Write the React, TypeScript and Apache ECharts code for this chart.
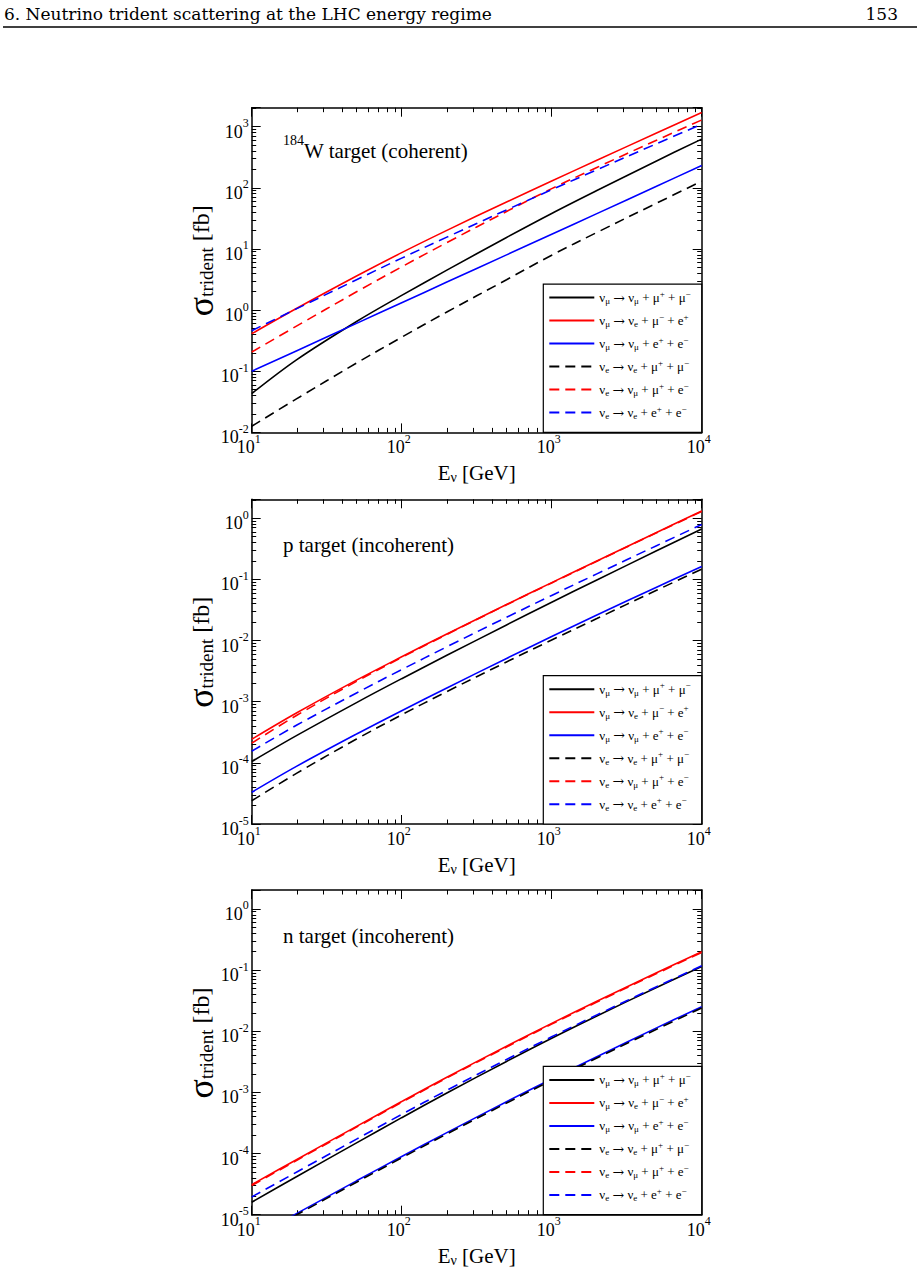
import React, { useEffect, useRef } from 'react';
import * as echarts from 'echarts';

// ---------------- data ----------------
const energies = [10, 20, 50, 100, 200, 500, 1000, 2000, 5000, 10000];

const reactionNames = [
  'ν_μ → ν_μ + μ^+ + μ^−',
  'ν_μ → ν_e + μ^− + e^+',
  'ν_μ → ν_μ + e^+ + e^−',
  'ν_e → ν_e + μ^+ + μ^−',
  'ν_e → ν_μ + μ^+ + e^−',
  'ν_e → ν_e + e^+ + e^−',
];

const xTickValues = [10, 100, 1000, 10000];

// 184W target (coherent), sigma in fb
const W_numu_mumu = [0.043, 0.155, 0.65, 1.74, 4.5, 15.4, 38, 90, 275, 625];
const W_numu_mue = [0.41, 1.07, 3.6, 8.7, 20.1, 58.7, 129, 282, 787, 1700];
const W_numu_ee = [0.1, 0.217, 0.606, 1.32, 2.87, 8.0, 17.4, 37.8, 106, 232];
const W_nue_mumu = [0.0126, 0.0356, 0.136, 0.36, 0.93, 3.14, 7.9, 18.6, 56, 128];
const W_nue_mue = [0.206, 0.551, 1.99, 5.1, 12.7, 41, 96.8, 215, 600, 1285];
const W_nue_ee = [0.46, 1.056, 3.14, 7.07, 15.6, 43.5, 93, 197, 525, 1094];

// p target (incoherent)
const P_numu_mumu = [1.05e-4, 2.81e-4, 9.67e-4, 2.38e-3, 5.73e-3, 1.8e-2, 4.23e-2, 9.77e-2, 0.293, 0.668];
const P_numu_mue = [2.43e-4, 6.59e-4, 2.25e-3, 5.42e-3, 1.28e-2, 3.88e-2, 8.85e-2, 0.2, 0.585, 1.31];
const P_numu_ee = [3.3e-5, 8.83e-5, 2.96e-4, 7.13e-4, 1.68e-3, 5.1e-3, 1.163e-2, 2.62e-2, 7.44e-2, 0.163];
const P_nue_mumu = [2.4e-5, 6.79e-5, 2.45e-4, 6.11e-4, 1.462e-3, 4.47e-3, 1.02e-2, 2.29e-2, 6.64e-2, 0.147];
const P_nue_mue = [2.1e-4, 6.0e-4, 2.15e-3, 5.3e-3, 1.26e-2, 3.85e-2, 8.75e-2, 0.198, 0.578, 1.29];
const P_nue_ee = [1.55e-4, 4.15e-4, 1.39e-3, 3.35e-3, 7.9e-3, 2.4e-2, 5.47e-2, 0.123, 0.356, 0.79];

// n target (incoherent)
const N_numu_mumu = [1.6e-5, 4.22e-5, 1.495e-4, 3.86e-4, 9.77e-4, 3.21e-3, 7.69e-3, 1.778e-2, 5.2e-2, 0.1145];
const N_numu_mue = [3.1e-5, 8.0e-5, 2.78e-4, 7.08e-4, 1.77e-3, 5.7e-3, 1.346e-2, 3.09e-2, 9.03e-2, 0.2];
const N_numu_ee = [4.1e-6, 1.05e-5, 3.58e-5, 8.95e-5, 2.2e-4, 7.04e-4, 1.66e-3, 3.84e-3, 1.134e-2, 2.52e-2];
const N_nue_mumu = [3.9e-6, 1.0e-5, 3.4e-5, 8.5e-5, 2.09e-4, 6.69e-4, 1.58e-3, 3.65e-3, 1.077e-2, 2.4e-2];
const N_nue_mue = [3.0e-5, 7.76e-5, 2.7e-4, 6.87e-4, 1.72e-3, 5.53e-3, 1.306e-2, 3.0e-2, 8.76e-2, 0.194];
const N_nue_ee = [1.95e-5, 5.0e-5, 1.72e-4, 4.36e-4, 1.08e-3, 3.45e-3, 8.1e-3, 1.85e-2, 5.34e-2, 0.1177];

const panelLabels = ['^{184}W target (coherent)', 'p target (incoherent)', 'n target (incoherent)'];
const yMins = [0.01, 1e-5, 1e-5];
const yMaxs = [2040, 2.04, 2.04];

const xAxisTitle = 'E_ν [GeV]';
const yAxisTitle = 'σ_{trident} [fb]';
const headerTitle = '6. Neutrino trident scattering at the LHC energy regime';
const pageNumber = '153';

// ---------------- styles / layout ----------------
const SERIF = '"Liberation Serif", "Times New Roman", serif';
const lineColors = ['#000000', '#ff0000', '#0000ff', '#000000', '#ff0000', '#0000ff'];
const lineDashed = [false, false, false, true, true, true];

const PLOT_LEFT = 251.7;
const PLOT_W = 450;
const PLOT_H = 324.7;
const panelTops = [107.7, 499.3, 890];
const LEGEND_LEFT = 543.3;
const LEGEND_W = 158.4;
const LEGEND_H = 148.3;

function toRich(s: string, normal: string, sub: string, sup: string, arrow?: string, first?: string): string {
  let out = '';
  let buf = '';
  const flush = () => {
    if (buf) {
      out += `{${normal}|${buf}}`;
      buf = '';
    }
  };
  for (let i = 0; i < s.length; i++) {
    const c = s[i];
    if ((c === '_' || c === '^') && i + 1 < s.length) {
      flush();
      let t = '';
      if (s[i + 1] === '{') {
        let j = i + 2;
        while (j < s.length && s[j] !== '}') {
          t += s[j];
          j++;
        }
        i = j;
      } else {
        t = s[i + 1];
        i++;
      }
      out += `{${c === '_' ? sub : sup}|${t}}`;
    } else if (arrow && c === '→') {
      flush();
      out += `{${arrow}|→}`;
    } else if (first && i === 0) {
      out += `{${first}|${c}}`;
    } else {
      buf += c;
    }
  }
  flush();
  return out;
}

const expLabel = (v: number) => {
  const e = Math.log10(v);
  const r = Math.round(e);
  if (Math.abs(e - r) > 1e-6) return '';
  return `{b|10}{e|${r}}`;
};

const tickRich = {
  b: { fontSize: 18, fontFamily: SERIF, color: '#000', lineHeight: 18, padding: [10, 0, 0, 0] },
  e: { fontSize: 12, fontFamily: SERIF, color: '#000', lineHeight: 12, padding: [0, 0, 7, 0] },
};

const panelSeries = [
  [W_numu_mumu, W_numu_mue, W_numu_ee, W_nue_mumu, W_nue_mue, W_nue_ee],
  [P_numu_mumu, P_numu_mue, P_numu_ee, P_nue_mumu, P_nue_mue, P_nue_ee],
  [N_numu_mumu, N_numu_mue, N_numu_ee, N_nue_mumu, N_nue_mue, N_nue_ee],
];

function buildOption() {
  const grid: any[] = [];
  const xAxis: any[] = [];
  const yAxis: any[] = [];
  const series: any[] = [];
  const legend: any[] = [];
  const title: any[] = [];
  const graphic: any[] = [];

  const frameLine = { show: true, onZero: false, lineStyle: { color: '#000', width: 1.5 } };
  const majorTick = { show: true, inside: true, length: 9, lineStyle: { color: '#000', width: 1 } };
  const minorTick = { show: true, splitNumber: 9, length: 4.5, lineStyle: { color: '#000', width: 1 } };

  panelTops.forEach((top, p) => {
    grid.push({ left: PLOT_LEFT, top, width: PLOT_W, height: PLOT_H });
    const xBase = {
      type: 'log',
      logBase: 10,
      gridIndex: p,
      min: xTickValues[0],
      max: xTickValues[xTickValues.length - 1],
      axisLine: frameLine,
      axisTick: majorTick,
      minorTick,
      splitLine: { show: false },
      minorSplitLine: { show: false },
    };
    xAxis.push({
      ...xBase,
      position: 'bottom',
      axisLabel: { formatter: expLabel, margin: 1, padding: [0, 6, 0, 0], rich: tickRich },
      name: toRich(xAxisTitle, 'n', 's', 'p'),
      nameLocation: 'middle',
      nameGap: 29,
      nameTextStyle: {
        fontSize: 21,
        fontFamily: SERIF,
        color: '#000',
        rich: {
          s: { fontSize: 14, fontFamily: SERIF, color: '#000', lineHeight: 14, padding: [9, 0, 0, 0] },
          n: { fontSize: 21, fontFamily: SERIF, color: '#000', lineHeight: 24 },
        },
      },
    });
    xAxis.push({ ...xBase, position: 'top', axisLabel: { show: false } });

    const yBase = {
      type: 'log',
      logBase: 10,
      gridIndex: p,
      min: yMins[p],
      max: yMaxs[p],
      axisLine: frameLine,
      axisTick: majorTick,
      minorTick,
      splitLine: { show: false },
      minorSplitLine: { show: false },
    };
    yAxis.push({
      ...yBase,
      position: 'left',
      axisLabel: { formatter: expLabel, margin: 3, rich: tickRich },
    });
    yAxis.push({ ...yBase, position: 'right', axisLabel: { show: false } });

    // rotated y-axis title
    graphic.push({
      type: 'text',
      x: 201,
      y: top + 153,
      rotation: Math.PI / 2,
      z: 10,
      style: {
        text: toRich(yAxisTitle, 'fb', 'tr', 'sp', undefined, 'sg'),
        align: 'center',
        verticalAlign: 'middle',
        fill: '#000',
        fontSize: 24,
        fontFamily: SERIF,
        rich: {
          sg: { fontSize: 36, fontFamily: SERIF, fill: '#000', lineHeight: 30 },
          tr: { fontSize: 19, fontFamily: SERIF, fill: '#000', lineHeight: 19, padding: [11, 0, 0, 0] },
          fb: { fontSize: 24, fontFamily: SERIF, fill: '#000', lineHeight: 30 },
        },
      },
    });

    panelSeries[p].forEach((vals, r) => {
      series.push({
        type: 'line',
        name: reactionNames[r],
        xAxisIndex: p * 2,
        yAxisIndex: p * 2,
        data: energies.map((e, k) => [e, vals[k]]),
        symbol: 'none',
        smooth: 0.35,
        clip: true,
        lineStyle: { color: lineColors[r], width: 1.6, type: lineDashed[r] ? [10, 6] : 'solid' },
        itemStyle: { color: lineColors[r] },
        z: 2,
      });
    });

    const legendTop = top + PLOT_H - LEGEND_H;
    graphic.push({
      type: 'rect',
      z: 3,
      shape: { x: LEGEND_LEFT, y: legendTop, width: LEGEND_W, height: LEGEND_H },
      style: { fill: '#ffffff', stroke: '#000000', lineWidth: 1.2 },
    });
    legend.push({
      orient: 'vertical',
      left: LEGEND_LEFT,
      top: legendTop,
      padding: [5, 5, 5, 5],
      itemGap: 6,
      itemWidth: 45,
      itemHeight: 14,
      selectedMode: false,
      z: 5,
      data: reactionNames,
      itemStyle: { opacity: 0 },
      formatter: (name: string) => toRich(name, 'n', 'sb', 'sp', 'ar'),
      textStyle: {
        fontFamily: SERIF,
        fontSize: 13,
        color: '#000',
        rich: {
          n: { fontSize: 13, fontFamily: SERIF, color: '#000', lineHeight: 18 },
          ar: { fontSize: 14, fontFamily: '"DejaVu Serif", serif', color: '#000', lineHeight: 18 },
          sb: { fontSize: 9, fontFamily: SERIF, color: '#000', lineHeight: 9, padding: [7, 0, 0, 0] },
          sp: { fontSize: 9, fontFamily: SERIF, color: '#000', lineHeight: 9, padding: [0, 0, 8, 0] },
        },
      },
    });

    const hasSup = panelLabels[p].indexOf('^') >= 0;
    title.push({
      text: toRich(panelLabels[p], 'n', 'sb', 'sp'),
      left: 283,
      top: hasSup ? top + 31 : top + 33.7,
      padding: 0,
      textStyle: {
        fontWeight: 'normal',
        rich: {
          n: { fontSize: 21, fontFamily: SERIF, color: '#000', fontWeight: 'normal', lineHeight: 24 },
          sp: { fontSize: 14, fontFamily: SERIF, color: '#000', fontWeight: 'normal', lineHeight: 14, padding: [0, 0, 20, 0] },
        },
      },
    });
  });

  graphic.push({
    type: 'text',
    x: 4,
    y: 14,
    style: { text: headerTitle, fontSize: 17, fontFamily: '"DejaVu Serif", serif', fill: '#000', align: 'left', verticalAlign: 'middle' },
  });
  graphic.push({
    type: 'text',
    x: 898,
    y: 14,
    style: { text: pageNumber, fontSize: 17, fontFamily: '"DejaVu Serif", serif', fill: '#000', align: 'right', verticalAlign: 'middle' },
  });
  graphic.push({
    type: 'line',
    shape: { x1: 3, y1: 27, x2: 917, y2: 27 },
    style: { stroke: '#000', lineWidth: 1.3 },
  });

  return {
    animation: false,
    backgroundColor: '#ffffff',
    grid,
    xAxis,
    yAxis,
    series,
    legend,
    title,
    graphic,
  };
}

export default function App() {
  const ref = useRef<HTMLDivElement>(null);
  useEffect(() => {
    if (!ref.current) return;
    const chart = echarts.init(ref.current, null, { renderer: 'svg' });
    chart.setOption(buildOption() as any);
    return () => chart.dispose();
  }, []);
  return (
    <div
      ref={ref}
      style={{ position: 'absolute', left: 0, top: 0, width: 920, height: 1278, background: '#ffffff' }}
    />
  );
}
